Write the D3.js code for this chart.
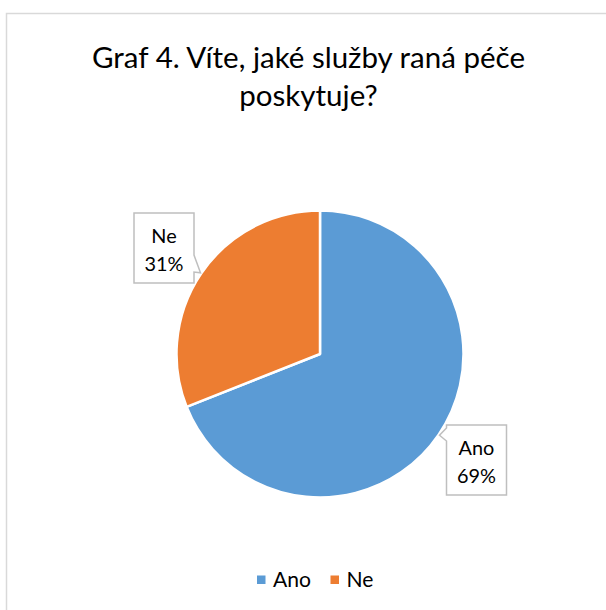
<!DOCTYPE html>
<html>
<head>
<meta charset="utf-8">
<script src="https://cdn.jsdelivr.net/npm/d3@7/dist/d3.min.js"></script>
<style>
  html, body { margin: 0; padding: 0; background: #fff; }
  svg { display: block; }
  text { font-family: Lato, "Open Sans", "Liberation Sans", sans-serif; fill: #000; }
</style>
</head>
<body>
<div id="chart"></div>
<script>
// Survey answers: "Do you know what services early care provides?"
const categories = ["Ano", "Ne"];
const values = [69, 31];
const colors = ["#5B9BD5", "#ED7D31"];
const titleLines = ["Graf 4. Víte, jaké služby raná péče", "poskytuje?"];

const W = 606, H = 610;
const cx = 320, cy = 354, radius = 143.5;

const svg = d3.select("#chart").append("svg")
  .attr("width", W).attr("height", H);

// chart frame
svg.append("rect")
  .attr("x", 6.5).attr("y", 13.5)
  .attr("width", 640).attr("height", 640)
  .attr("fill", "#fff")
  .attr("stroke", "#d9d9d9").attr("stroke-width", 1.5);

// scale a text element's font size so it spans the given width
function fitText(sel, target, base) {
  sel.style("font-size", base + "px");
  const w = sel.node().getComputedTextLength();
  const size = base * target / w;
  sel.style("font-size", size + "px");
  return size;
}

// title
const titleSize = (() => {
  const probe = svg.append("text").text(titleLines[0]);
  const s = fitText(probe, 433, 30);
  probe.remove();
  return s;
})();
svg.append("g").selectAll("text").data(titleLines).join("text")
  .attr("x", 308.5)
  .attr("y", (d, i) => 68 + i * 38)
  .attr("text-anchor", "middle")
  .style("font-size", titleSize + "px")
  .text(d => d);

// pie
const pie = d3.pie().sort(null).value(d => d.value);
const data = pie(categories.map((c, i) => ({ cat: c, value: values[i], color: colors[i] })));
const arc = d3.arc().innerRadius(0).outerRadius(radius);

const g = svg.append("g").attr("transform", `translate(${cx},${cy})`);
g.selectAll("path").data(data).join("path")
  .attr("d", arc)
  .attr("fill", d => d.data.color)
  .attr("stroke", "#fff")
  .attr("stroke-width", 2.5)
  .attr("stroke-linejoin", "round");

// data label callouts
const labelSize = (() => {
  const probe = svg.append("text").text("31%");
  const s = fitText(probe, 39, 22);
  probe.remove();
  return s;
})();

const boxW = 60, boxH = 70;
const boxes = [
  { x: 446.5, y: 425, side: "left",  n1: 3,  n2: 16 },   // Ano
  { x: 134,   y: 213, side: "right", n1: 42, n2: 59 }    // Ne
];

data.forEach((d, i) => {
  const b = boxes[i];
  const mid = (d.startAngle + d.endAngle) / 2;
  const tipR = radius + 1;
  const tx = cx + tipR * Math.sin(mid);
  const ty = cy - tipR * Math.cos(mid);
  const x0 = b.x, y0 = b.y, x1 = b.x + boxW, y1 = b.y + boxH;
  let pts;
  if (b.side === "left") {
    pts = [[x0, y0], [x1, y0], [x1, y1], [x0, y1],
           [x0, y0 + b.n2], [tx, ty], [x0, y0 + b.n1]];
  } else {
    pts = [[x0, y0], [x1, y0], [x1, y0 + b.n1], [tx, ty],
           [x1, y0 + b.n2], [x1, y1], [x0, y1]];
  }
  svg.append("path")
    .attr("d", "M" + pts.map(p => p.join(",")).join("L") + "Z")
    .attr("fill", "#fff")
    .attr("stroke", "#bfbfbf")
    .attr("stroke-width", 1.5)
    .attr("stroke-linejoin", "miter");

  const lbl = svg.append("text")
    .attr("text-anchor", "middle")
    .style("font-size", labelSize + "px");
  lbl.append("tspan").attr("x", x0 + boxW / 2).attr("y", y0 + 30).text(d.data.cat);
  lbl.append("tspan").attr("x", x0 + boxW / 2).attr("y", y0 + 58)
    .text(Math.round(d.data.value) + "%");
});

// legend
const legendSize = (() => {
  const probe = svg.append("text").text("Ano");
  const s = fitText(probe, 38, 23);
  probe.remove();
  return s;
})();
const legendX = [257, 330.5];
const lg = svg.append("g");
categories.forEach((c, i) => {
  lg.append("rect")
    .attr("x", legendX[i]).attr("y", 575.5)
    .attr("width", 8.5).attr("height", 8.5)
    .attr("fill", colors[i]);
  lg.append("text")
    .attr("x", legendX[i] + 16).attr("y", 587)
    .style("font-size", legendSize + "px")
    .text(c);
});
</script>
</body>
</html>
